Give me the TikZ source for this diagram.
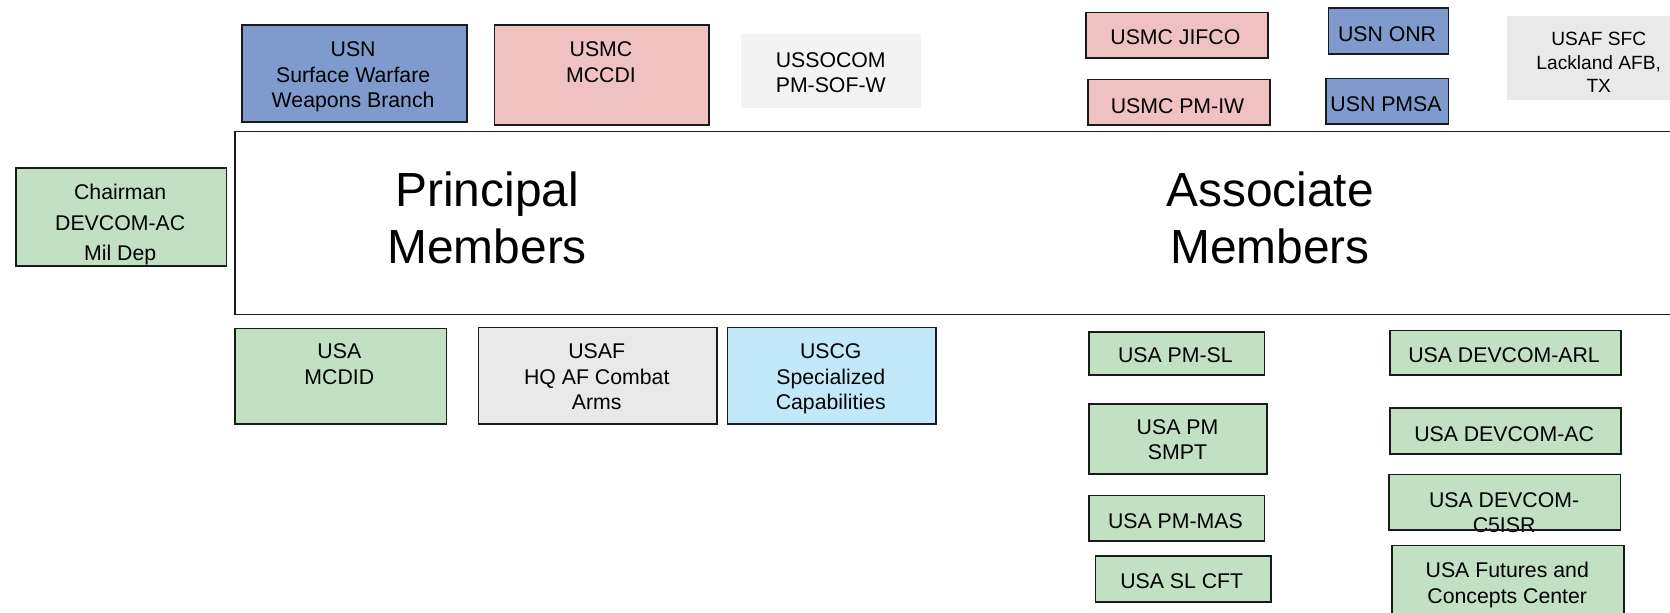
\documentclass[tikz,border=0pt]{standalone}
\usepackage{fontspec}
\setmainfont{Liberation Sans}
\definecolor{cblue}{HTML}{7F9BCD}
\definecolor{cpink}{HTML}{F0C1C1}
\definecolor{cgreen}{HTML}{C2E0C2}
\definecolor{cgray}{HTML}{E9E9E9}
\definecolor{clight}{HTML}{F3F3F3}
\definecolor{ccyan}{HTML}{C1E9F9}
\definecolor{cline}{HTML}{1A1A1A}
\begin{document}
\begin{tikzpicture}[x=1pt,y=-1pt,
  box/.style={draw=cline, line width=1.6pt, inner sep=0pt, anchor=north west},
  plain/.style={inner sep=0pt, anchor=north west},
  txt/.style={align=center, inner sep=0pt, yshift=-2.5pt, font=\fontsize{20}{24}\selectfont,
    execute at begin node=\strut, execute at end node=\strut},
  txtsm/.style={align=center, inner sep=0pt, yshift=-2pt, font=\fontsize{18}{22}\selectfont,
    execute at begin node=\strut, execute at end node=\strut},
  txtch/.style={align=center, inner sep=0pt, yshift=-3.5pt, font=\fontsize{20}{28.5}\selectfont,
    execute at begin node=\strut, execute at end node=\strut},
  big/.style={align=center, inner sep=0pt, yshift=-2.5pt, font=\fontsize{45}{54}\selectfont,
    execute at begin node=\strut, execute at end node=\strut}]
\useasboundingbox (0,0) rectangle (1570,576);
\clip (0,0) rectangle (1570,576);
\fill[white] (0,0) rectangle (1570,576);

% central panel
\node[draw=cline, line width=1.4pt, inner sep=0pt, anchor=north west,
  minimum width=1400pt, minimum height=172pt] (panel) at (220,123) {};
\node[big] (principal) at (458,210) {Principal\\Members};
\node[big] (associate) at (1194,210) {Associate\\Members};

% chairman
\node[box, fill=cgreen, minimum width=198pt, minimum height=92pt] (chair) at (14,157) {};
\node[txtch] (chairt) at (113,210) {Chairman\\DEVCOM-AC\\Mil Dep};

% top row, principal
\node[box, fill=cblue, minimum width=211pt, minimum height=91pt] (usn) at (227,23) {};
\node[txt] (usnt) at (332,71.4) {USN\\Surface Warfare\\Weapons Branch};
\node[box, fill=cpink, minimum width=202pt, minimum height=94pt] (mccdi) at (464,23) {};
\node[txt] (mccdit) at (565,59.4) {USMC\\MCCDI};
\node[plain, fill=clight, minimum width=170pt, minimum height=69pt] (socom) at (696,32) {};
\node[txt] (socomt) at (781,69.4) {USSOCOM\\PM-SOF-W};

% top row, associate
\node[box, fill=cpink, minimum width=171pt, minimum height=43pt] (jifco) at (1020,11) {};
\node[txt] (jifcot) at (1105,34.4) {USMC JIFCO};
\node[box, fill=cpink, minimum width=171pt, minimum height=43pt] (pmiw) at (1022,74) {};
\node[txt] (pmiwt) at (1107,99.4) {USMC PM-IW};
\node[box, fill=cblue, minimum width=113pt, minimum height=43pt] (onr) at (1248,7) {};
\node[txt] (onrt) at (1304,31.4) {USN ONR};
\node[box, fill=cblue, minimum width=115pt, minimum height=43pt] (pmsa) at (1246,73) {};
\node[txt] (pmsat) at (1303,97.4) {USN PMSA};
\node[plain, fill=cgray, minimum width=200pt, minimum height=79pt] (sfc) at (1417,15) {};
\node[txtsm] (sfct) at (1503,60) {USAF SFC\\Lackland AFB,\\TX};

% bottom row, principal
\node[box, fill=cgreen, minimum width=199pt, minimum height=90pt] (mcdid) at (220,308) {};
\node[txt] (mcdidt) at (319,343.4) {USA\\MCDID};
\node[box, fill=cgray, minimum width=224pt, minimum height=91pt] (hqaf) at (449,307) {};
\node[txt] (hqaft) at (561,355.4) {USAF\\HQ AF Combat\\Arms};
\node[box, fill=ccyan, minimum width=196pt, minimum height=91pt] (uscg) at (683,307) {};
\node[txt] (uscgt) at (781,355.4) {USCG\\Specialized\\Capabilities};

% bottom, associate left column
\node[box, fill=cgreen, minimum width=165pt, minimum height=41pt] (pmsl) at (1023,311) {};
\node[txt] (pmslt) at (1105,333.4) {USA PM-SL};
\node[box, fill=cgreen, minimum width=167pt, minimum height=66pt] (smpt) at (1023,379) {};
\node[txt] (smptt) at (1107,414.4) {USA PM\\SMPT};
\node[box, fill=cgreen, minimum width=165pt, minimum height=43pt] (pmmas) at (1023,465) {};
\node[txt] (pmmast) at (1105,489.4) {USA PM-MAS};
\node[box, fill=cgreen, minimum width=165pt, minimum height=43pt] (slcft) at (1029,522) {};
\node[txt] (slcftt) at (1111,546.4) {USA SL CFT};

% bottom, associate right column
\node[box, fill=cgreen, minimum width=217pt, minimum height=42pt] (arl) at (1306,310) {};
\node[txt] (arlt) at (1414,333.4) {USA DEVCOM-ARL};
\node[box, fill=cgreen, minimum width=217pt, minimum height=43pt] (ac) at (1306,383) {};
\node[txt] (act) at (1414,407.4) {USA DEVCOM-AC};
\node[plain, fill=cgreen, minimum width=217pt, minimum height=52pt] (c5) at (1306,446) {};
\node[txt] (c5t) at (1414,483) {USA DEVCOM-\\C5ISR};
\draw[draw=cline, line width=1.6pt] (c5.north west) rectangle (c5.south east);
\node[box, fill=cgreen, minimum width=218pt, minimum height=100pt] (fcc) at (1308,512) {};
\node[txt] (fcct) at (1417,548.9) {USA Futures and\\Concepts Center};
\end{tikzpicture}
\end{document}
